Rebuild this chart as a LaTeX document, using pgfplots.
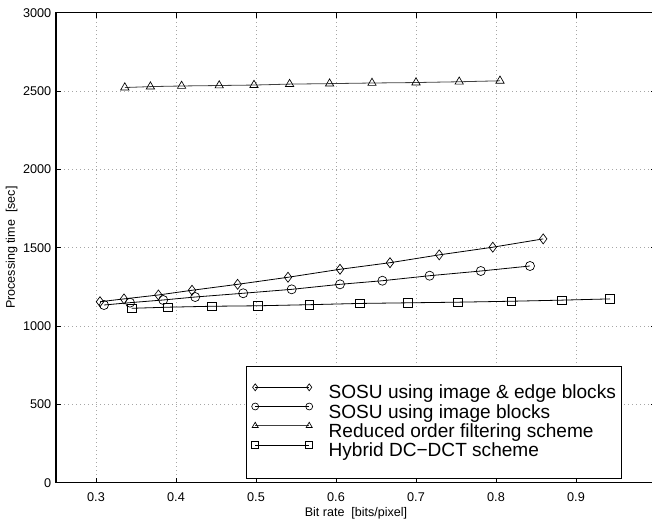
\documentclass[border=0pt]{standalone}
\usepackage{fontspec}
\setmainfont{Liberation Sans}
\usepackage{pgfplots}
\pgfplotsset{compat=1.18}
\begin{document}
\begin{tikzpicture}
\begin{axis}[
  scale only axis, width=450pt, height=352.5pt,
  xmin=0.25, xmax=1, ymin=0, ymax=3000,
  xtick={0.3,0.4,0.5,0.6,0.7,0.8,0.9,1},
  xticklabels={0.3,0.4,0.5,0.6,0.7,0.8,0.9,1},
  ytick={0,500,1000,1500,2000,2500,3000},
  /pgf/number format/1000 sep={},
  /pgf/number format/assume math mode=true,
  tick label style={font=\fontsize{9.5}{10}\selectfont},
  xticklabel style={anchor=base, yshift=-14.5pt},
  grid=major,
  major grid style={gray!70, line width=0.4pt, dash pattern=on 0.5pt off 2.5pt},
  axis line style={line width=0.9pt},
  tick style={black, line width=0.6pt},
  major tick length=3.75pt,
  tick align=inside,
  xlabel={Bit rate\ \ [bits/pixel]},
  ylabel={Processing time\ \ [sec]},
  label style={font=\fontsize{9.4}{10}\selectfont},
  xlabel style={at={(axis description cs:0.5,0)}, anchor=base, yshift=-25pt},
  ylabel style={at={(axis description cs:-0.0738,0.5)}, anchor=center, rotate=0},
  legend cell align=left,
  legend style={at={(axis description cs:0.3167,0.248)}, anchor=north west,
    draw=black, line width=0.6pt, font=\fontsize{14.3}{15}\selectfont,
    inner xsep=4pt, inner ysep=13pt, column sep=12pt,
    nodes={inner sep=0pt, text height=10.5pt, text depth=3.1pt}, row sep=0pt},
  legend image code/.code={\draw[#1, mark size=2.6pt] plot coordinates {(0pt,5pt) (40.5pt,5pt)};},
]
\addplot[black, line width=0.6pt, mark=diamond, mark size=3.75pt, mark options={solid, line width=0.5pt}] coordinates {
(0.305,1155) (0.335,1173) (0.378,1198) (0.420,1228) (0.477,1266) (0.540,1311)
(0.605,1362) (0.6675,1404) (0.729,1454) (0.796,1503) (0.859,1556)};
\addlegendentry{SOSU using image \& edge blocks}
\addplot[black, line width=0.6pt, mark=o, mark size=3.4pt, mark options={solid, line width=0.5pt}] coordinates {
(0.310,1134) (0.3425,1149) (0.384,1166) (0.424,1185) (0.484,1209) (0.5446,1234)
(0.605,1266) (0.658,1289) (0.717,1321) (0.781,1351) (0.8425,1383)};
\addlegendentry{SOSU using image blocks}
\addplot[black!75, line width=0.6pt, mark=triangle, mark size=3.6pt, mark options={solid, black, line width=0.5pt}] coordinates {
(0.336,2522) (0.368,2528) (0.407,2532) (0.454,2535) (0.4975,2538) (0.542,2544)
(0.592,2547) (0.645,2551) (0.700,2554) (0.754,2559) (0.805,2565)};
\addlegendentry{Reduced order filtering scheme}
\addplot[black, line width=0.6pt, mark=square, mark size=3.2pt, mark options={solid, line width=0.5pt}] coordinates {
(0.3446,1113) (0.390,1120) (0.4446,1126) (0.502,1129) (0.5666,1136) (0.630,1144)
(0.690,1148) (0.7525,1152) (0.819,1158) (0.882,1165) (0.9425,1173)};
\addlegendentry{Hybrid DC−DCT scheme}
\end{axis}
\pgfresetboundingbox
\useasboundingbox ([xshift=-42pt,yshift=-28pt]current axis.south west) rectangle ([xshift=-3pt,yshift=9.5pt]current axis.north east);
\end{tikzpicture}
\end{document}
